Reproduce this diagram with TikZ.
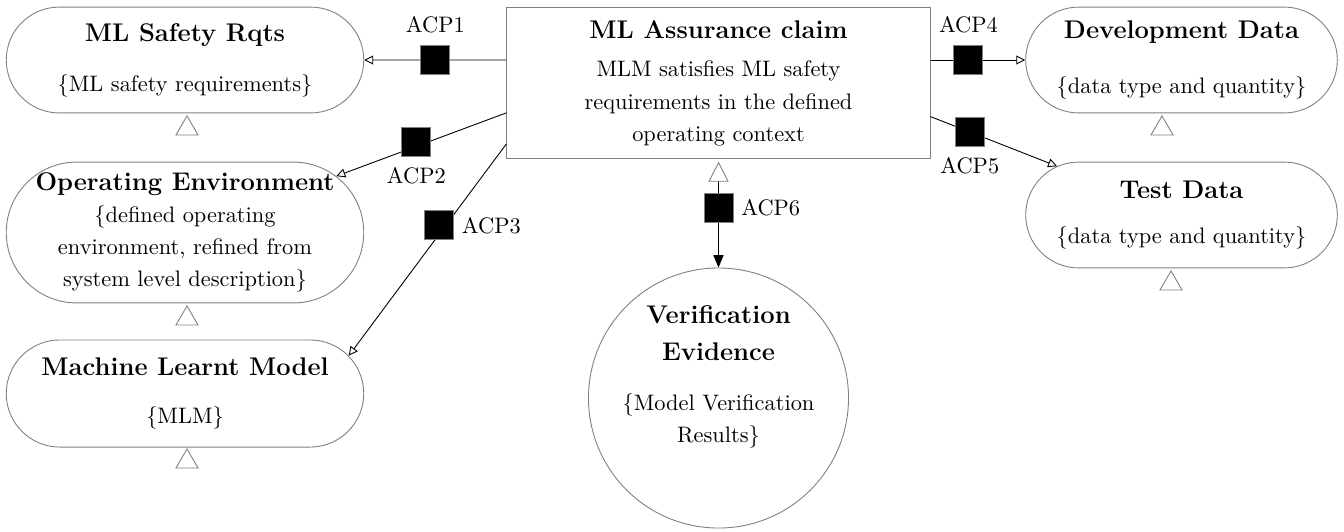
\documentclass[tikz,border=0pt]{standalone}
\usepackage{tikz}
\usetikzlibrary{positioning,shapes.misc,shapes.geometric,arrows.meta}

\newcommand{\boxtitle}[1]{{\fontsize{11.4pt}{14pt}\selectfont\bfseries #1}}

\tikzset{
  artefact/.style={shape=rounded rectangle,draw=gray,align=center,inner sep=2pt},
  claimbox/.style={rectangle,draw=gray,align=center,inner sep=2pt},
  evidence/.style={circle,draw=gray,align=center,inner sep=-1.5pt,minimum size=4.08cm},
  acpbox/.style={rectangle,draw=gray,fill=black,minimum size=0.455cm,inner sep=0pt},
  contrib/.style={regular polygon,regular polygon sides=3,draw=gray,fill=white,
    minimum size=0.4cm,inner sep=0pt,anchor=north},
  link/.style={-{Triangle[open,length=4pt,width=4pt]}},
  supp/.style={{Triangle[length=9pt,width=9pt,color=gray,fill=white]}-{Triangle[length=5.5pt,width=4.5pt]},
    shorten <=1pt}
}

\begin{document}
\begin{tikzpicture}[x=1.569cm,y=-1.569cm,font={\fontsize{10pt}{14.3pt}\selectfont}]
  \useasboundingbox (0,0) rectangle (13.44,5.31);

  % Left column
  \node[artefact,minimum width=5.75cm,minimum height=1.66cm] (msr) at (1.85,0.60)
    {\boxtitle{ML Safety Rqts}\\[8pt]\{ML safety requirements\}};
  \node[artefact,minimum width=5.75cm,minimum height=2.21cm] (oe) at (1.85,2.325)
    {\makebox[3.9cm]{\boxtitle{Operating Environment}}\\\{defined operating\\environment, refined from\\system level description\}};
  \node[artefact,minimum width=5.75cm,minimum height=1.68cm] (mlm) at (1.85,3.935)
    {\boxtitle{Machine Learnt Model}\\[7pt]\{MLM\}};

  % Claim and evidence
  \node[claimbox,minimum width=6.64cm,minimum height=2.38cm] (ac) at (7.185,0.83)
    {\boxtitle{ML Assurance claim}\\[3pt]MLM satisfies ML safety\\requirements in the defined\\operating context};
  \node[evidence] (ve) at (7.185,3.98)
    {\boxtitle{Verification}\\[2pt]\boxtitle{Evidence}\\[8pt]\{Model Verification\\Results\}\\[7pt]\mbox{}};

  % Right column
  \node[artefact,minimum width=5.03cm,minimum height=1.66cm] (dev) at (11.815,0.60)
    {\boxtitle{Development Data}\\[10pt]\{data type and quantity\}};
  \node[artefact,minimum width=5.03cm,minimum height=1.66cm] (td) at (11.815,2.15)
    {\boxtitle{Test Data}\\[6pt]\{data type and quantity\}};

  % Small triangles
  \node[contrib] (t1) at (1.87,1.15) {};
  \node[contrib] (t2) at (1.87,3.05) {};
  \node[contrib] (t3) at (1.87,4.48) {};
  \node[contrib] (t4) at (11.62,1.15) {};
  \node[contrib] (t5) at (11.71,2.70) {};

  % ACP links
  \draw[link] (ac.west |- msr) -- node[acpbox,pos=0.5] (acp1) {} (msr);
  \draw[link] (ac.188) -- node[acpbox,pos=0.53,yshift=2pt] (acp2) {} (oe);
  \draw[link] (ac.196) -- node[acpbox,pos=0.385,xshift=-3pt] (acp3) {} (mlm.13);
  \draw[link] (ac.east |- dev) -- node[acpbox,pos=0.4] (acp4) {} (dev);
  \draw[link] (ac.351) -- node[acpbox,pos=0.31] (acp5) {} (td);
  \draw[supp] (ac) -- node[acpbox,pos=0.45] (acp6) {} (ve);

  \node[above=2pt of acp1] (l1) {ACP1};
  \node[below=1pt of acp2] (l2) {ACP2};
  \node[right=0pt of acp3] (l3) {ACP3};
  \node[above=2pt of acp4] (l4) {ACP4};
  \node[below=1pt of acp5] (l5) {ACP5};
  \node[right=0pt of acp6] (l6) {ACP6};
\end{tikzpicture}
\end{document}
